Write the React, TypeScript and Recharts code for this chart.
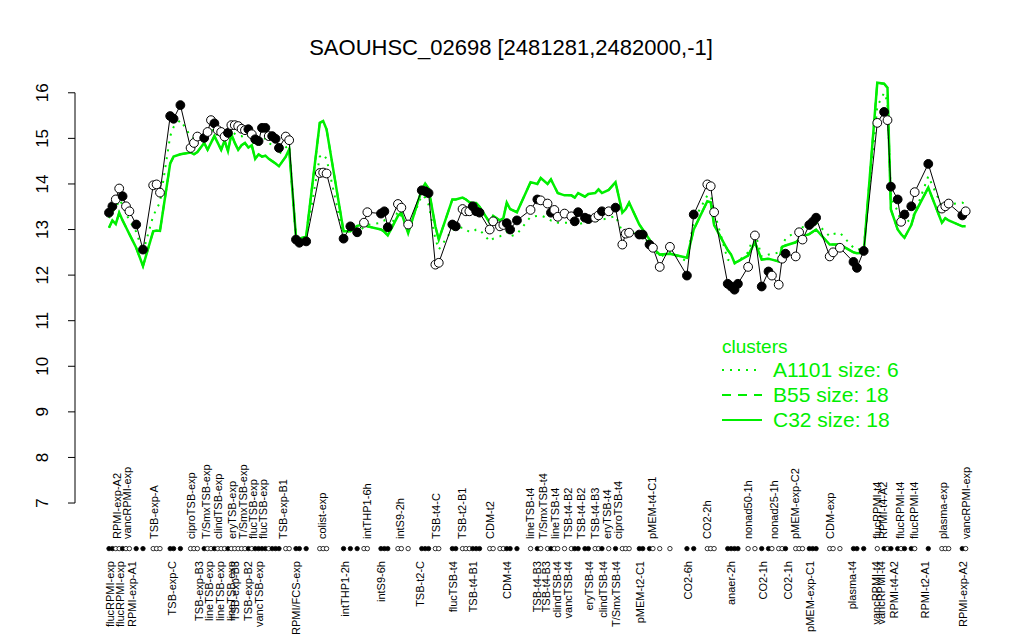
import { ComposedChart, Line, XAxis, YAxis, ReferenceLine } from 'recharts'

// sample slots along the x axis (one slot per hybridisation)
const positions = [
  0, 1, 2, 3, 4, 5, 6, 8, 10, 13,
  14, 15, 18, 19, 21, 24, 25, 26, 28, 29,
  30, 31, 32, 33, 34, 35, 36, 37, 38, 39,
  40, 41, 42, 43, 44, 45, 46, 47, 48, 49,
  50, 52, 53, 55, 56, 58, 62, 63, 64, 69,
  71, 73, 75, 76, 80, 81, 82, 85, 86, 88,
  92, 93, 94, 96, 97, 101, 102, 104, 105, 106,
  107, 108, 109, 112, 113, 115, 116, 117, 118, 120,
  124, 126, 127, 129, 130, 131, 132, 134, 136, 137,
  138, 140, 141, 143, 144, 145, 147, 149, 151, 152,
  153, 156, 157, 159, 160, 162, 165, 170, 172, 176,
  177, 178, 182, 183, 184, 185, 188, 190, 192, 194,
  195, 197, 198, 199, 202, 203, 204, 206, 207, 208,
  212, 213, 215, 219, 220, 222, 226, 228, 229, 230,
  232, 233, 234, 236, 237, 241, 245, 246, 247, 251, 252,
]

// log2 expression for this segment
const values = [
  13.37, 13.51, 13.66, 13.9, 13.73, 13.51, 13.4, 13.11, 12.56, 13.97,
  13.99, 13.81, 15.49, 15.43, 15.73, 14.79, 14.9, 15.04, 15.01, 15.14,
  15.4, 15.33, 15.18, 15.14, 15.04, 15.12, 15.29, 15.29, 15.27, 15.21,
  15.18, 15.2, 15.09, 14.98, 14.94, 15.23, 15.23, 15.05, 15.05, 14.99,
  14.79, 15.04, 14.96, 12.78, 12.71, 12.74, 14.24, 14.25, 14.23, 12.8,
  13.07, 12.94, 13.15, 13.38, 13.35, 13.4, 13.05, 13.56, 13.48, 13.11,
  13.86, 13.84, 13.8, 12.23, 12.27, 13.11, 13.07, 13.45, 13.4, 13.4,
  13.51, 13.4, 13.37, 13.0, 13.18, 13.07, 13.1, 13.14, 13.0, 13.2,
  13.43, 13.66, 13.64, 13.57, 13.37, 13.43, 13.28, 13.35, 13.29, 13.18,
  13.38, 13.26, 13.23, 13.26, 13.31, 13.4, 13.4, 13.48, 12.67, 12.91,
  12.93, 12.89, 12.89, 12.67, 12.6, 12.18, 12.62, 11.99, 13.33, 13.99,
  13.95, 13.38, 11.81, 11.75, 11.68, 11.81, 12.18, 12.87, 11.75, 12.08,
  11.99, 11.79, 12.36, 12.47, 12.41, 12.94, 12.78, 13.1, 13.17, 13.26,
  12.41, 12.5, 12.6, 12.29, 12.16, 12.53, 15.34, 15.58, 15.4, 13.94,
  13.66, 13.17, 13.33, 13.51, 13.82, 14.44, 13.46, 13.51, 13.57, 13.31, 13.4,
]

// 1 = filled symbol, 0 = open symbol
const filled = [
  1, 1, 0, 0, 1, 0, 0, 1, 1, 0,
  0, 0, 1, 1, 1, 0, 0, 0, 1, 0,
  0, 1, 0, 0, 0, 1, 0, 0, 0, 0,
  0, 1, 0, 1, 1, 1, 1, 0, 1, 1,
  1, 0, 0, 1, 1, 1, 0, 0, 0, 1,
  1, 1, 0, 0, 1, 1, 1, 0, 0, 0,
  1, 1, 1, 0, 0, 1, 1, 0, 0, 0,
  1, 1, 1, 0, 0, 0, 0, 1, 1, 1,
  0, 1, 0, 0, 1, 0, 0, 0, 0, 1,
  1, 1, 1, 0, 0, 1, 0, 1, 0, 0,
  0, 1, 1, 1, 0, 0, 0, 1, 1, 0,
  0, 0, 1, 1, 1, 1, 0, 0, 1, 1,
  0, 0, 0, 1, 0, 0, 0, 1, 1, 1,
  0, 0, 0, 1, 1, 1, 0, 1, 0, 1,
  1, 0, 1, 1, 0, 1, 0, 0, 0, 1, 0,
]

// cluster profiles
const a1101 = [
  13.25, 13.4, 13.45, 13.65, 13.55, 13.35, 13.2, 12.95, 12.5, 13.3,
  13.45, 13.6, 15.05, 15.25, 15.4, 15.05, 15.0, 15.05, 15.0, 15.1,
  15.15, 15.2, 15.05, 15.0, 15.0, 15.0, 15.15, 15.1, 15.05, 15.05,
  15.0, 15.05, 14.95, 14.85, 14.85, 14.95, 15.0, 14.9, 14.85, 14.8,
  14.65, 14.8, 14.85, 12.8, 12.75, 12.8, 14.6, 14.65, 14.55, 12.85,
  13.0, 12.95, 13.05, 13.1, 13.15, 13.2, 12.95, 13.4, 13.3, 13.0,
  13.75, 13.7, 13.55, 12.8, 12.56, 13.0, 13.0, 13.05, 13.0, 12.95,
  12.95, 13.0, 13.0, 12.74, 12.8, 12.85, 12.9, 12.95, 12.85, 12.9,
  13.28, 13.3, 13.31, 13.25, 13.2, 13.2, 13.15, 13.15, 13.15, 13.1,
  13.12, 13.15, 13.15, 13.18, 13.2, 13.22, 13.25, 13.3, 12.95, 12.95,
  12.95, 12.9, 12.85, 12.7, 12.6, 12.4, 12.5, 12.3, 13.2, 13.75,
  13.75, 13.4, 12.34, 12.3, 12.25, 12.3, 12.5, 12.95, 12.4, 12.45,
  12.45, 12.5, 12.63, 12.8, 12.95, 13.07, 13.05, 13.04, 13.1, 13.15,
  12.85, 12.9, 12.93, 12.6, 12.55, 12.6, 15.7, 16.0, 15.8, 13.7,
  13.4, 13.15, 13.11, 13.25, 13.35, 14.17, 13.51, 13.55, 13.55, 13.59, 13.55,
]

const b55 = [
  13.04, 13.2, 13.12, 13.37, 13.2, 13.05, 12.9, 12.6, 12.2, 12.96,
  12.98, 12.97, 14.45, 14.6, 14.65, 14.69, 14.65, 14.7, 14.9, 14.75,
  14.9, 15.05, 14.9, 14.75, 14.95, 14.72, 15.09, 14.9, 14.75, 14.85,
  14.9, 14.8, 14.85, 14.55, 14.65, 14.6, 14.62, 14.55, 14.5, 14.45,
  14.39, 14.6, 14.76, 12.85, 12.8, 12.85, 15.34, 15.38, 15.2, 12.96,
  12.96, 13.08, 13.11, 13.07, 13.0, 12.95, 12.87, 13.3, 13.37, 12.92,
  13.88, 14.01, 13.9, 13.07, 12.78, 13.66, 13.66, 13.7, 13.66, 13.6,
  13.58, 13.58, 13.5, 13.15, 13.3, 13.2, 13.25, 13.59, 13.45, 13.38,
  14.04, 14.0, 14.13, 14.0, 14.1, 13.95, 13.8, 13.75, 13.75, 13.7,
  13.8, 13.72, 13.78, 13.8, 13.88, 13.8, 13.87, 14.04, 13.37, 13.45,
  13.59, 13.11, 13.0, 12.78, 12.6, 12.45, 12.47, 12.38, 13.0, 13.62,
  13.6, 13.1, 12.55, 12.45, 12.27, 12.3, 12.43, 12.72, 12.34, 12.36,
  12.34, 12.3, 12.62, 12.65, 12.72, 12.78, 12.85, 12.9, 12.95, 13.0,
  12.67, 12.67, 12.67, 12.5, 12.48, 12.49, 16.22, 16.2, 16.11, 13.44,
  13.0, 12.9, 12.82, 13.1, 13.35, 13.92, 13.15, 13.25, 13.2, 13.07, 13.07,
]

const c32 = [
  13.04, 13.2, 13.12, 13.37, 13.2, 13.05, 12.9, 12.6, 12.2, 12.96,
  12.98, 12.97, 14.45, 14.6, 14.65, 14.69, 14.65, 14.7, 14.9, 14.75,
  14.9, 15.05, 14.9, 14.75, 14.95, 14.72, 15.09, 14.9, 14.75, 14.85,
  14.9, 14.8, 14.85, 14.55, 14.65, 14.6, 14.62, 14.55, 14.5, 14.45,
  14.39, 14.6, 14.76, 12.85, 12.8, 12.85, 15.34, 15.38, 15.2, 12.96,
  12.96, 13.08, 13.11, 13.07, 13.0, 12.95, 12.87, 13.3, 13.37, 12.92,
  13.88, 14.01, 13.9, 13.07, 12.78, 13.66, 13.66, 13.7, 13.66, 13.6,
  13.58, 13.58, 13.5, 13.15, 13.3, 13.2, 13.25, 13.59, 13.45, 13.38,
  14.04, 14.0, 14.13, 14.0, 14.1, 13.95, 13.8, 13.75, 13.75, 13.7,
  13.8, 13.72, 13.78, 13.8, 13.88, 13.8, 13.87, 14.04, 13.37, 13.45,
  13.59, 13.11, 13.0, 12.78, 12.6, 12.45, 12.47, 12.38, 13.0, 13.62,
  13.6, 13.1, 12.55, 12.45, 12.27, 12.3, 12.43, 12.72, 12.34, 12.36,
  12.34, 12.3, 12.62, 12.65, 12.72, 12.78, 12.85, 12.9, 12.95, 13.0,
  12.67, 12.67, 12.67, 12.5, 12.48, 12.49, 16.22, 16.2, 16.11, 13.44,
  13.0, 12.9, 12.82, 13.1, 13.35, 13.92, 13.15, 13.25, 13.2, 13.07, 13.07,
]

// condition names written above / below the sample row
const topLabels = [
  'RPMI-exp-A2', 'vancRPMI-exp', 'TSB-exp-A', 'ciproTSB-exp', 'T/SmxTSB-exp',
  'clindTSB-exp', 'eryTSB-exp', 'T/SmxTSB-exp', 'flucTSB-exp', 'flucTSB-exp',
  'TSB-exp-B1', 'colist-exp', 'intTHP1-6h', 'intS9-2h', 'TSB-t4-C',
  'TSB-t2-B1', 'CDM-t2', 'lineTSB-t4', 'T/SmxTSB-t4', 'lineTSB-t4',
  'TSB-t4-B2', 'TSB-t4-B2', 'TSB-t4-B3', 'eryTSB-t4', 'ciproTSB-t4',
  'pMEM-t4-C1', 'CO2-2h', 'nonad50-1h', 'nonad25-1h', 'pMEM-exp-C2',
  'CDM-exp', 'flucRPMI-t4', 'RPMI-t4-A2', 'flucRPMI-t4', 'flucRPMI-t4',
  'plasma-exp', 'vancRPMI-exp',
]
const topLabelPos = [
  2.4, 5.3, 13.2, 24.1, 28.5,
  32, 36.2, 39.4, 42.4, 45.3,
  51.2, 62.6, 75.9, 85.6, 96.2,
  103.8, 112, 123.8, 127.6, 131.2,
  135, 138.8, 143, 146.5, 149.7,
  159.7, 175.9, 187.9, 195.6, 201.8,
  212.1, 225.9, 227.6, 232.6, 236.8,
  245.3, 252,
]

const bottomLabels = [
  'flucRPMI-exp', 'flucRPMI-exp', 'RPMI-exp-A1', 'TSB-exp-C', 'TSB-exp-B3',
  'lineTSB-exp', 'lineTSB-exp', 'lineTSB-exp', 'TSB-exp-B3', 'TSB-exp-B2',
  'vancTSB-exp', 'RPMI/FCS-exp', 'intTHP1-2h', 'intS9-6h', 'TSB-t2-C',
  'flucTSB-t4', 'TSB-t4-B1', 'CDM-t4', 'TSB-t4-B3', 'TSB-t4-B3',
  'clindTSB-t4', 'vancTSB-t4', 'eryTSB-t4', 'clindTSB-t4', 'T/SmxTSB-t4',
  'pMEM-t2-C1', 'CO2-6h', 'anaer-2h', 'CO2-1h', 'CO2-1h',
  'pMEM-exp-C1', 'plasma-t4', 'vancRPMI-t4', 'vancRPMI-t4', 'RPMI-t4-A2',
  'RPMI-t2-A1', 'RPMI-exp-A2',
]
const bottomLabelPos = [
  0.3, 3.4, 6.7, 18.7, 26.5,
  29.4, 32.6, 35.9, 37.1, 40.9,
  44.1, 55.2, 69.4, 80.2, 91.5,
  101.3, 107.1, 117, 125.8, 128.7,
  131.7, 135.1, 141.2, 145.4, 149.3,
  156.2, 170.4, 183.1, 192.3, 199.8,
  206.2, 218.5, 225.6, 227.1, 230.9,
  240, 251.2,
]

const yTicks = [7, 8, 9, 10, 11, 12, 13, 14, 15, 16]
const RUG_LEVEL = 6

const GREEN = '#00ee00'
const FONT = '"Liberation Sans", Arial, Helvetica, sans-serif'

const rows = positions.map((pos, i) => ({
  pos,
  value: values[i],
  filled: filled[i],
  a1101: a1101[i],
  b55: b55[i],
  c32: c32[i],
  rug: RUG_LEVEL,
}))

const labelsAt = new Map<number, Array<{ text: string, side: 'top' | 'bottom' }>>()
topLabels.forEach((text, i) => {
  const list = labelsAt.get(topLabelPos[i]) ?? []
  list.push({ text, side: 'top' })
  labelsAt.set(topLabelPos[i], list)
})
bottomLabels.forEach((text, i) => {
  const list = labelsAt.get(bottomLabelPos[i]) ?? []
  list.push({ text, side: 'bottom' })
  labelsAt.set(bottomLabelPos[i], list)
})
const xTicks = [...labelsAt.keys()].sort((a, b) => a - b)

function SampleTick({ x, payload }: any) {
  const items = labelsAt.get(payload.value) ?? []
  return (
    <g>
      {items.map((it, k) => {
        const y = it.side === 'top' ? 539 : 561
        return (
          <text
            key={k}
            x={x}
            y={y}
            dy="0.35em"
            transform={`rotate(-90, ${x}, ${y})`}
            textAnchor={it.side === 'top' ? 'start' : 'end'}
            fontSize={11}
            fontFamily={FONT}
            fill="#000"
          >
            {it.text}
          </text>
        )
      })}
    </g>
  )
}

function ValueTick({ y, payload }: any) {
  return (
    <text
      x={42}
      y={y}
      dy="0.35em"
      transform={`rotate(-90, 42, ${y})`}
      textAnchor="middle"
      fontSize={17}
      fontFamily={FONT}
      fill="#000"
    >
      {payload.value}
    </text>
  )
}

function SampleDot({ cx, cy, payload, index }: any) {
  return (
    <circle
      key={`p${index}`}
      cx={cx}
      cy={cy}
      r={4.4}
      fill={payload.filled ? '#000' : '#fff'}
      stroke="#000"
      strokeWidth={1}
    />
  )
}

function RugDot({ cx, cy, payload, index }: any) {
  return (
    <circle
      key={`r${index}`}
      cx={cx}
      cy={cy}
      r={2.2}
      fill={payload.filled ? '#000' : '#fff'}
      stroke="#000"
      strokeWidth={0.8}
    />
  )
}

const legendItems = [
  { name: 'A1101 size: 6', dash: '2 6' },
  { name: 'B55 size: 18', dash: '9 7' },
  { name: 'C32 size: 18', dash: undefined },
]

export default function App() {
  return (
    <div style={{ position: 'absolute', left: 0, top: 0, width: 1024, height: 640, background: '#fff' }}>
      <ComposedChart
        width={1024}
        height={640}
        data={rows}
        margin={{ top: 70, right: 25, bottom: 0, left: 0 }}
      >
        <XAxis
          dataKey="pos"
          type="number"
          domain={[-10, 261.8]}
          ticks={xTicks}
          interval={0}
          tick={<SampleTick />}
          tickLine={false}
          axisLine={false}
          height={80}
        />
        <YAxis
          type="number"
          domain={[5.75, 16.5]}
          ticks={yTicks}
          interval={0}
          width={75}
          tickSize={7}
          tickLine={{ stroke: '#000' }}
          axisLine={false}
          tick={<ValueTick />}
        />
        <ReferenceLine
          segment={[{ x: -10, y: 7 }, { x: -10, y: 16 }]}
          stroke="#000"
          ifOverflow="visible"
        />
        <Line
          dataKey="a1101"
          type="linear"
          stroke={GREEN}
          strokeWidth={2}
          strokeDasharray="2 6"
          dot={false}
          isAnimationActive={false}
        />
        <Line
          dataKey="b55"
          type="linear"
          stroke={GREEN}
          strokeWidth={2}
          strokeDasharray="9 7"
          dot={false}
          isAnimationActive={false}
        />
        <Line
          dataKey="c32"
          type="linear"
          stroke={GREEN}
          strokeWidth={2.5}
          dot={false}
          isAnimationActive={false}
        />
        <Line
          dataKey="value"
          type="linear"
          stroke="#000"
          strokeWidth={1}
          dot={SampleDot}
          activeDot={false}
          isAnimationActive={false}
        />
        <Line
          dataKey="rug"
          type="linear"
          stroke="none"
          dot={RugDot}
          activeDot={false}
          isAnimationActive={false}
        />
      </ComposedChart>
      <svg
        width={1024}
        height={640}
        style={{ position: 'absolute', left: 0, top: 0, pointerEvents: 'none' }}
        fontFamily={FONT}
      >
        <text x={511} y={55} textAnchor="middle" fontSize={22} fill="#000">
          SAOUHSC_02698 [2481281,2482000,-1]
        </text>
        <text x={722} y={353} fontSize={19} fill={GREEN}>clusters</text>
        {legendItems.map((item, i) => {
          const y = 370 + i * 25
          return (
            <g key={item.name}>
              <line
                x1={722}
                x2={762}
                y1={y}
                y2={y}
                stroke={GREEN}
                strokeWidth={2}
                strokeDasharray={item.dash}
              />
              <text x={773} y={y + 7} fontSize={21} fill={GREEN}>{item.name}</text>
            </g>
          )
        })}
      </svg>
    </div>
  )
}
